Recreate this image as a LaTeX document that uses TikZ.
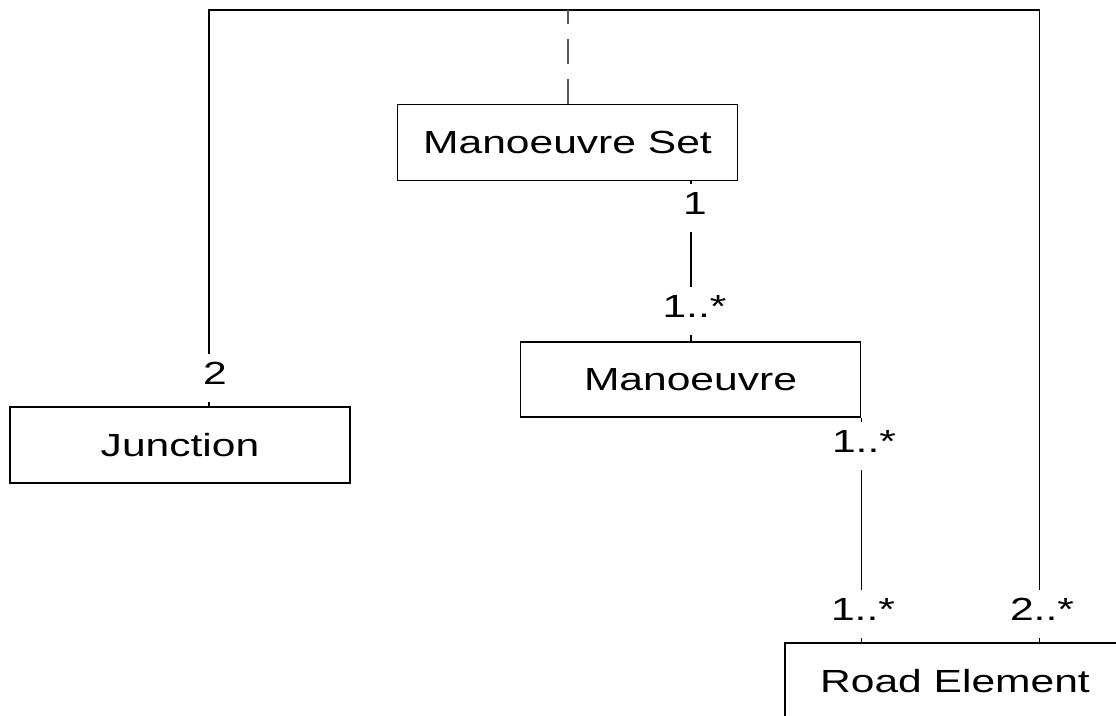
\documentclass[tikz,border=0pt]{standalone}
\usepackage{fontspec}
\setmainfont{Liberation Sans}
\newfontfamily\umlfont[FakeStretch=1.33]{Liberation Sans}
\begin{document}
\begin{tikzpicture}[x=1pt,y=-1pt,
  every node/.style={font=\umlfont\fontsize{32}{38}\selectfont},
  classbox/.style={draw, line width=1.8pt, minimum width=340pt, minimum height=76pt, inner sep=0pt},
  mult/.style={anchor=base, inner xsep=2pt, inner ysep=0pt, text height=29.5pt, text depth=18pt},
  assoc/.style={line width=1.5pt},
  dep/.style={line width=1.3pt, black!65, dash pattern=on 25pt off 15pt}]
\useasboundingbox (0,0) rectangle (1116,715);
\clip (0,0) rectangle (1116,715);

% classes
\node[classbox] (mset) at (567.5,142.5) {Manoeuvre Set};
\node[classbox, minimum height=75pt] (man) at (690.5,379.5) {Manoeuvre};
\node[classbox] (junc) at (180,445) {Junction};
\node[classbox] (road) at (955,681) {Road Element};

% multiplicities
\node[mult] (m2)  at (215,384)    {2};
\node[mult] (m1)  at (695,214)    {1};
\node[mult] (m1a) at (694.5,317)  {1..*};
\node[mult] (m1b) at (864,452)    {1..*};
\node[mult] (m1c) at (863,620)    {1..*};
\node[mult] (m2b) at (1042,620)   {2..*};

% routing guides
\coordinate (top) at (0,10);
\coordinate (jx) at (209,0);
\coordinate (rx) at (1039.5,0);
\coordinate (mx) at (691,0);
\coordinate (dx) at (568,0);

% Junction -- Road Element
\draw[assoc] (junc.north -| jx) -- (m2.south -| jx);
\draw[assoc] (m2.north -| jx) -- (jx |- top) -- (rx |- top) -- (m2b.north -| rx);
\draw[assoc] (m2b.south -| rx) -- (road.north -| rx);

% Manoeuvre Set -- Manoeuvre
\draw[assoc] (mset.south -| mx) -- (m1.north -| mx);
\draw[assoc] (m1.south -| mx) -- (m1a.north -| mx);
\draw[assoc] (m1a.south -| mx) -- (man.north -| mx);

% Manoeuvre -- Road Element
\draw[assoc] (man.south east) -- (m1b.north -| man.south east);
\draw[assoc] (m1b.south -| man.south east) -- (m1c.north -| man.south east);
\draw[assoc] (m1c.south -| man.south east) -- (road.north -| man.south east);

% Manoeuvre Set dependency on the association
\draw[dep] (mset.north -| dx) -- (dx |- top);
\end{tikzpicture}
\end{document}
